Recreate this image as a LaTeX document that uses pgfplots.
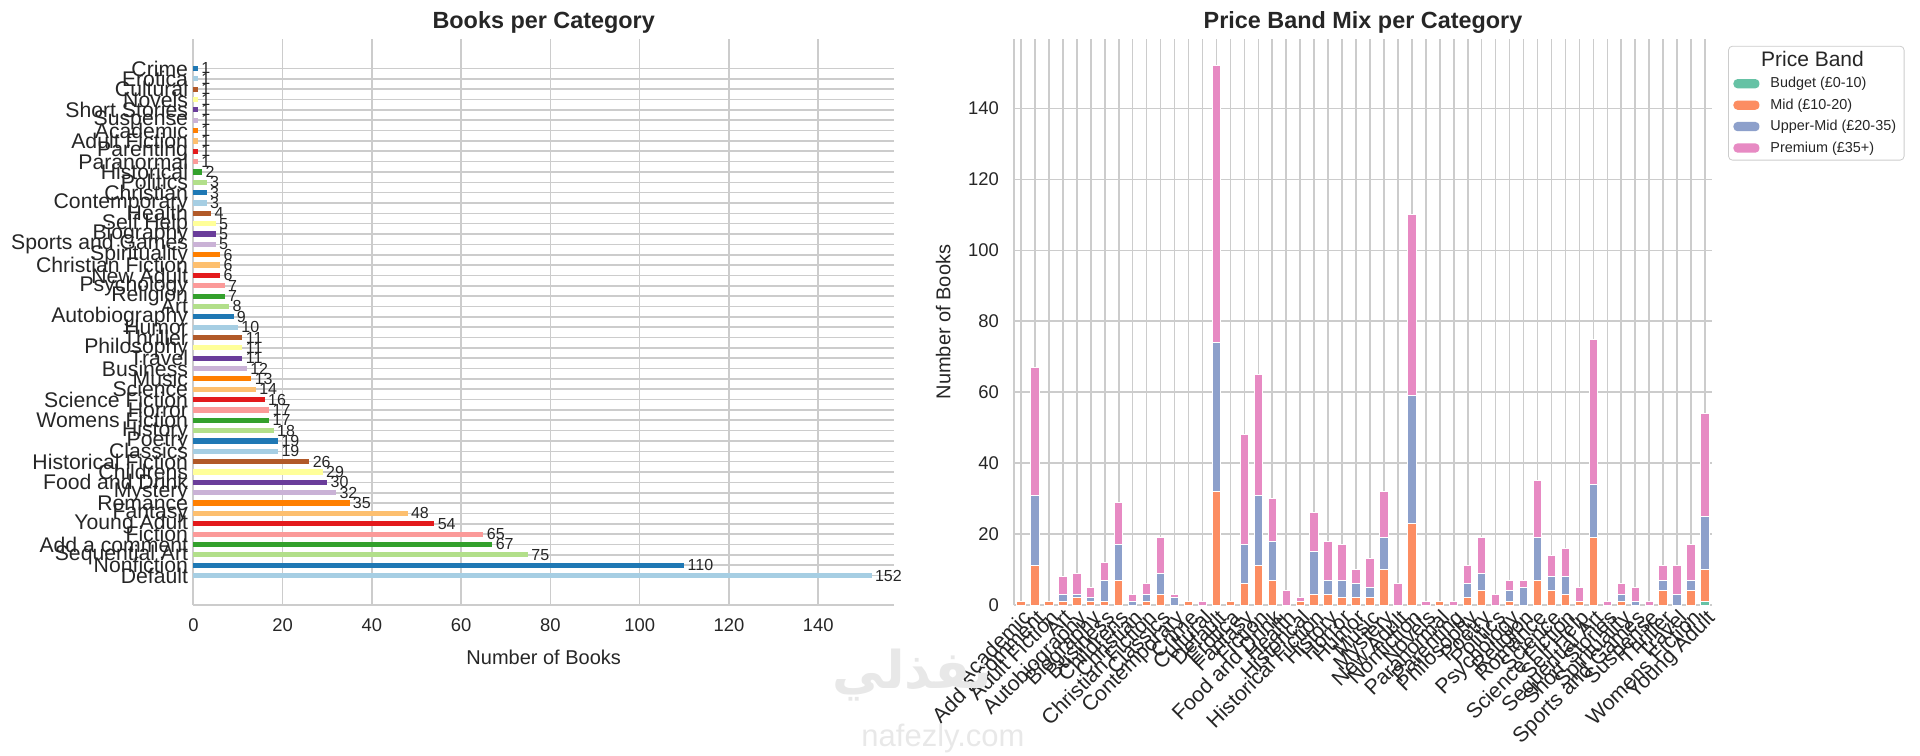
\documentclass[border=0pt]{standalone}
\usepackage{pgfplots}
\pgfplotsset{compat=1.18}
\usepackage{fontspec}
\setmainfont{Liberation Sans}
\newfontfamily\arabicfont[Script=Arabic]{DejaVu Sans}
\TeXXeTstate=1
\definecolor{p0}{HTML}{A6CEE3}
\definecolor{p1}{HTML}{1F78B4}
\definecolor{p2}{HTML}{B2DF8A}
\definecolor{p3}{HTML}{33A02C}
\definecolor{p4}{HTML}{FB9A99}
\definecolor{p5}{HTML}{E31A1C}
\definecolor{p6}{HTML}{FDBF6F}
\definecolor{p7}{HTML}{FF7F00}
\definecolor{p8}{HTML}{CAB2D6}
\definecolor{p9}{HTML}{6A3D9A}
\definecolor{p10}{HTML}{FFFF99}
\definecolor{p11}{HTML}{B15928}
\definecolor{gridc}{HTML}{CCCCCC}
\definecolor{txt}{HTML}{262626}
\definecolor{sBudget}{HTML}{66C2A5}
\definecolor{sMid}{HTML}{FC8D62}
\definecolor{sUpper}{HTML}{8DA0CB}
\definecolor{sPrem}{HTML}{E78AC3}

\pgfplotstableread{
x budget mid upper premium
0 0 1 0 0
1 0 11 20 36
2 0 1 0 0
3 0 1 2 5
4 0 2 1 6
5 0 1 1 3
6 0 1 6 5
7 0 7 10 12
8 0 0 1 2
9 0 1 2 3
10 0 3 6 10
11 0 0 2 1
12 0 1 0 0
13 0 0 0 1
14 0 32 42 78
15 0 1 0 0
16 0 6 11 31
17 0 11 20 34
18 0 7 11 12
19 0 0 0 4
20 0 1 0 1
21 0 3 12 11
22 0 3 4 11
23 0 2 5 10
24 0 2 4 4
25 0 2 3 8
26 0 10 9 13
27 0 0 0 6
28 0 23 36 51
29 0 0 0 1
30 0 1 0 0
31 0 0 0 1
32 0 2 4 5
33 0 4 5 10
34 0 0 0 3
35 0 1 3 3
36 0 0 5 2
37 0 7 12 16
38 0 4 4 6
39 0 3 5 8
40 0 1 0 4
41 0 19 15 41
42 0 0 0 1
43 0 1 2 3
44 0 0 1 4
45 0 0 0 1
46 0 4 3 4
47 0 0 3 8
48 0 4 3 10
49 1 9 15 29
}\pricetable

\pgfplotsset{
  base/.style={
    scale only axis,
    /pgf/number format/assume math mode=true,
    axis x line*=bottom, axis y line*=left,
    axis line style={gridc, line width=1pt, -},
    grid=major, major grid style={gridc, line width=0.8pt},
    major tick length=0pt,
    tick label style={font=\fontsize{9.2}{11}\selectfont, text=txt},
    label style={font=\fontsize{10}{12}\selectfont, text=txt},
    title style={font=\bfseries\fontsize{11.7}{14}\selectfont, text=txt, yshift=-7pt},
  }
}
\newcommand{\hb}[3]{\addplot[xbar, bar shift=0pt, bar width=0.5, fill=#1, draw=none] coordinates {(#2,#3)};}

\begin{document}
\begin{tikzpicture}
\useasboundingbox (0,0) rectangle (960pt,377.5pt);
\begin{axis}[base, at={(96.7pt,75pt)}, anchor=south west, width=350.3pt, height=283pt,
  xbar, bar width=0.5, bar shift=0pt, clip=false,
  xmin=0, xmax=157, ymin=-2.85, ymax=51.85,
  xtick={0,20,...,140}, ytick={0,...,49},
  yticklabels={Default,Nonfiction,Sequential Art,Add a comment,Fiction,Young Adult,Fantasy,Romance,Mystery,Food and Drink,Childrens,Historical Fiction,Classics,Poetry,History,Womens Fiction,Horror,Science Fiction,Science,Music,Business,Travel,Philosophy,Thriller,Humor,Autobiography,Art,Religion,Psychology,New Adult,Christian Fiction,Spirituality,Sports and Games,Biography,Self Help,Health,Contemporary,Christian,Politics,Historical,Paranormal,Parenting,Adult Fiction,Academic,Suspense,Short Stories,Novels,Cultural,Erotica,Crime},
  yticklabel style={font=\fontsize{10.6}{12}\selectfont, inner sep=1.5pt, xshift=-1pt},
  xticklabel style={yshift=-3.5pt},
  title={Books per Category}, xlabel={Number of Books}, xlabel shift=2pt,
  nodes near coords, nodes near coords style={font=\fontsize{8}{9}\selectfont, text=txt, anchor=west, inner sep=1.5pt},
  ]
\hb{p0}{152}{0}
\hb{p1}{110}{1}
\hb{p2}{75}{2}
\hb{p3}{67}{3}
\hb{p4}{65}{4}
\hb{p5}{54}{5}
\hb{p6}{48}{6}
\hb{p7}{35}{7}
\hb{p8}{32}{8}
\hb{p9}{30}{9}
\hb{p10}{29}{10}
\hb{p11}{26}{11}
\hb{p0}{19}{12}
\hb{p1}{19}{13}
\hb{p2}{18}{14}
\hb{p3}{17}{15}
\hb{p4}{17}{16}
\hb{p5}{16}{17}
\hb{p6}{14}{18}
\hb{p7}{13}{19}
\hb{p8}{12}{20}
\hb{p9}{11}{21}
\hb{p10}{11}{22}
\hb{p11}{11}{23}
\hb{p0}{10}{24}
\hb{p1}{9}{25}
\hb{p2}{8}{26}
\hb{p3}{7}{27}
\hb{p4}{7}{28}
\hb{p5}{6}{29}
\hb{p6}{6}{30}
\hb{p7}{6}{31}
\hb{p8}{5}{32}
\hb{p9}{5}{33}
\hb{p10}{5}{34}
\hb{p11}{4}{35}
\hb{p0}{3}{36}
\hb{p1}{3}{37}
\hb{p2}{3}{38}
\hb{p3}{2}{39}
\hb{p4}{1}{40}
\hb{p5}{1}{41}
\hb{p6}{1}{42}
\hb{p7}{1}{43}
\hb{p8}{1}{44}
\hb{p9}{1}{45}
\hb{p10}{1}{46}
\hb{p11}{1}{47}
\hb{p0}{1}{48}
\hb{p1}{1}{49}
\end{axis}

\begin{axis}[base, at={(507pt,75pt)}, anchor=south west, width=349pt, height=283pt,
  ybar stacked, bar width=0.6,
  xmin=-0.5, xmax=49.5, ymin=0, ymax=159.6,
  ytick={0,20,...,140}, xtick={0,...,49},
  xticklabels={Academic,Add a comment,Adult Fiction,Art,Autobiography,Biography,Business,Childrens,Christian,Christian Fiction,Classics,Contemporary,Crime,Cultural,Default,Erotica,Fantasy,Fiction,Food and Drink,Health,Historical,Historical Fiction,History,Horror,Humor,Music,Mystery,New Adult,Nonfiction,Novels,Paranormal,Parenting,Philosophy,Poetry,Politics,Psychology,Religion,Romance,Science,Science Fiction,Self Help,Sequential Art,Short Stories,Spirituality,Sports and Games,Suspense,Thriller,Travel,Womens Fiction,Young Adult},
  xticklabel style={font=\fontsize{10.6}{12}\selectfont, rotate=45, anchor=north east, inner sep=1pt},
  yticklabel style={xshift=-4pt},
  title={Price Band Mix per Category}, ylabel={Number of Books}, ylabel shift=2pt,
  legend style={at={(1.023,0.988)}, anchor=north west, draw=gridc, rounded corners=2pt,
    font=\fontsize{7.2}{8.5}\selectfont, text=txt, fill=white, inner xsep=2.5pt, inner ysep=1pt,
    row sep=1pt, column sep=4pt, nodes={inner sep=1.5pt}},
  legend cell align=left,
  legend image code/.code={\fill[#1, draw=none] (0pt,-2.1pt) rectangle (13pt,2.5pt);},
  ]
\addlegendimage{empty legend}
\addlegendentry{\makebox[42pt]{\fontsize{10.5}{12}\selectfont Price Band}}
\addplot[fill=sBudget, draw=white, line width=0.5pt] table[x=x, y=budget] {\pricetable};
\addlegendentry{Budget (£0-10)}
\addplot[fill=sMid, draw=white, line width=0.5pt] table[x=x, y=mid] {\pricetable};
\addlegendentry{Mid (£10-20)}
\addplot[fill=sUpper, draw=white, line width=0.5pt] table[x=x, y=upper] {\pricetable};
\addlegendentry{Upper-Mid (£20-35)}
\addplot[fill=sPrem, draw=white, line width=0.5pt] table[x=x, y=premium] {\pricetable};
\addlegendentry{Premium (£35+)}
\end{axis}
\node[text=black!9, font=\arabicfont\bfseries\fontsize{26}{28}\selectfont] at (456pt,40pt) {\beginR نفذلي\endR};
\node[text=black!9, font=\fontsize{15.5}{17}\selectfont] at (471.5pt,8.5pt) {nafezly.com};
\end{tikzpicture}
\end{document}
